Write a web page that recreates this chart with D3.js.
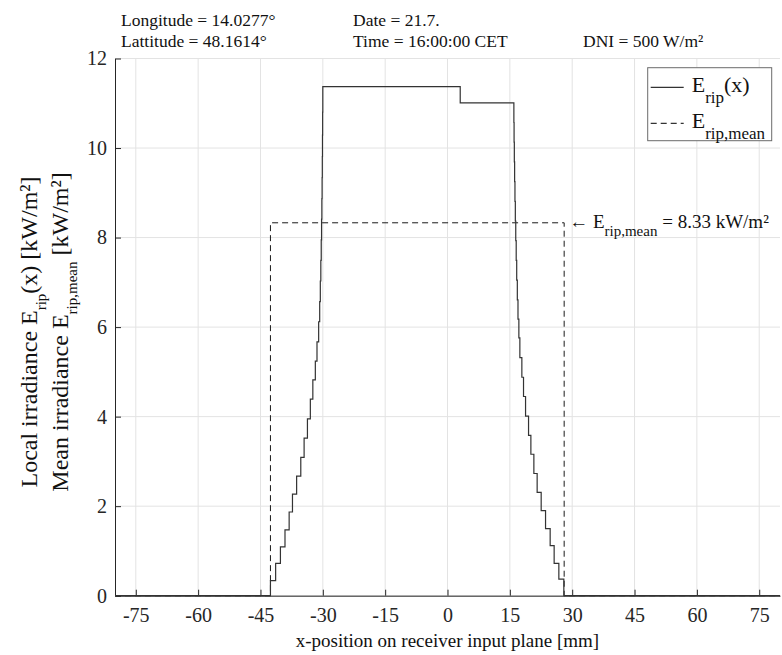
<!DOCTYPE html>
<html>
<head>
<meta charset="utf-8">
<script src="https://cdn.jsdelivr.net/npm/d3@7"></script>
<style>
  body { margin: 0; background: #fff; }
  svg { display: block; font-family: "Liberation Serif", "Times New Roman", serif; }
</style>
</head>
<body>
<svg class="chart" width="782" height="655"></svg>
<script>
// tick values
const xTicks = [-75, -60, -45, -30, -15, 0, 15, 30, 45, 60, 75];
const yTicks = [0, 2, 4, 6, 8, 10, 12];

// local irradiance E_rip(x), step function (value holds until next x)
const ripX = [-80, -42.6, -41.35, -40.2, -39.1, -38.1, -37.3, -36.3, -35.3, -34.5, -33.7, -33.0, -32.4, -31.8, -31.4, -31.0,
              -30.75, -30.6, -30.48, -30.38, -30.3, -30.23, -30.17, -30.12, -30.08, -30.04, -30.0, 3.06,
              15.97, 16.02, 16.08, 16.15, 16.23, 16.32, 16.42, 16.53, 16.65, 16.8, 16.96, 17.17,
              17.41, 17.89, 18.29, 18.78, 19.50, 20.06, 20.78, 21.57, 22.54, 23.59, 24.70, 25.66, 26.79, 27.99, 80];
const ripE = [0, 0.335, 0.72, 1.09, 1.47, 1.87, 2.27, 2.67, 3.09, 3.52, 3.95, 4.39, 4.82, 5.24, 5.67, 6.12,
              6.57, 7.03, 7.49, 7.95, 8.41, 8.87, 9.34, 9.81, 10.29, 10.8, 11.37, 11.01,
              10.57, 10.13, 9.69, 9.25, 8.81, 8.37, 7.93, 7.49, 7.05, 6.61, 6.18, 5.76,
              5.32, 4.88, 4.45, 4.01, 3.58, 3.16, 2.73, 2.31, 1.90, 1.50, 1.12, 0.72, 0.37, 0, 0];

// mean irradiance E_rip,mean
const meanX = [-80, -42.6, -42.6, 28.07, 28.07, 80];
const meanE = [0, 0, 8.33, 8.33, 0, 0];
const meanValue = 8.33;

const infoRows = [
  ["Longitude = 14.0277°", "Date = 21.7.", ""],
  ["Lattitude = 48.1614°", "Time = 16:00:00 CET", "DNI = 500 W/m²"]
];

var svg = d3.select(".chart");
var width = +svg.attr("width");
var height = +svg.attr("height");

let margin = {left: 115, right: 2, top: 58.5, bottom: 59.3};
let innerWidth = width - margin.left - margin.right;
let innerHeight = height - margin.top - margin.bottom;

let axisColor = "#262626";
let gridColor = "#e3e3e3";
let tickFont = 20;

var xScale = d3.scaleLinear().domain([-80, 80]).range([0, innerWidth]);
var yScale = d3.scaleLinear().domain([0, 12]).range([innerHeight, 0]);

let g = svg.append("g")
           .attr("transform", `translate(${margin.left}, ${margin.top})`);

// grid
g.append("g")
 .selectAll("line")
 .data(xTicks)
 .join("line")
 .attr("x1", d => xScale(d)).attr("x2", d => xScale(d))
 .attr("y1", 0).attr("y2", innerHeight)
 .attr("stroke", gridColor);
g.append("g")
 .selectAll("line")
 .data(yTicks)
 .join("line")
 .attr("x1", 0).attr("x2", innerWidth)
 .attr("y1", d => yScale(d)).attr("y2", d => yScale(d))
 .attr("stroke", gridColor);

// axes, ticks point inward like matlab, plain hyphen for negatives
let xAxis = g.append("g")
    .attr("transform", `translate(0, ${innerHeight})`)
    .call(d3.axisBottom(xScale).tickValues(xTicks).tickFormat(d => String(d))
            .tickSizeInner(-6).tickSizeOuter(0).tickPadding(12));
let yAxis = g.append("g")
    .call(d3.axisLeft(yScale).tickValues(yTicks).tickFormat(d => String(d))
            .tickSizeInner(-6).tickSizeOuter(0).tickPadding(8));

[xAxis, yAxis].forEach(a => {
  a.attr("font-family", null);
  a.select(".domain").attr("stroke", axisColor);
  a.selectAll(".tick line").attr("stroke", axisColor);
  a.selectAll(".tick text")
   .attr("fill", axisColor)
   .style("font-size", tickFont + "px");
});

// mean (dashed)
g.append("path")
 .datum(meanX.map((x, i) => [x, meanE[i]]))
 .attr("fill", "none")
 .attr("stroke", "#1a1a1a")
 .attr("stroke-width", 1)
 .attr("stroke-dasharray", "6,4")
 .attr("d", d3.line().x(d => xScale(d[0])).y(d => yScale(d[1])));

// local irradiance (solid, stairs)
g.append("path")
 .datum(ripX.map((x, i) => [x, ripE[i]]))
 .attr("fill", "none")
 .attr("stroke", "#333")
 .attr("stroke-width", 1.2)
 .attr("d", d3.line().curve(d3.curveStepAfter).x(d => xScale(d[0])).y(d => yScale(d[1])));

// annotation at mean level
let ann = g.append("text")
 .attr("x", xScale(meanX[3]) + 5)
 .attr("y", yScale(meanValue) + 5)
 .attr("fill", "#111")
 .style("font-size", "19px");
ann.append("tspan").text("← E");
ann.append("tspan").attr("dy", 8).style("font-size", "15px").text("rip,mean");
ann.append("tspan").attr("dy", -8).text(" = " + meanValue.toFixed(2) + " kW/m²");

// legend
let legend = g.append("g").attr("transform", `translate(${647.7 - margin.left}, ${67.7 - margin.top})`);
legend.append("rect")
 .attr("width", 124).attr("height", 73)
 .attr("fill", "#fff").attr("stroke", "#6b6b6b");
let legendItems = [
  {main: "E", sub: "rip", tail: "(x)", dash: null},
  {main: "E", sub: "rip,mean", tail: "", dash: "6,4"}
];
legendItems.forEach((it, i) => {
  let yy = 19.6 + i * 36;
  legend.append("line")
   .attr("x1", 3).attr("x2", 36).attr("y1", yy).attr("y2", yy)
   .attr("stroke", "#333").attr("stroke-width", 1.2)
   .attr("stroke-dasharray", it.dash);
  let t = legend.append("text")
   .attr("x", 44).attr("y", yy + 5)
   .attr("fill", "#111")
   .style("font-size", "22px");
  t.append("tspan").text(it.main);
  t.append("tspan").attr("dy", 11).style("font-size", "17px").text(it.sub);
  if (it.tail) t.append("tspan").attr("dy", -11).text(it.tail);
});

// x label
svg.append("text")
 .attr("x", margin.left + innerWidth / 2)
 .attr("y", 647)
 .attr("text-anchor", "middle")
 .attr("fill", "#111")
 .style("font-size", "19px")
 .text("x-position on receiver input plane [mm]");

// y labels (two lines, rotated)
function yLabel(x, parts) {
  let t = svg.append("text")
    .attr("transform", `translate(${x}, 332) rotate(-90)`)
    .attr("text-anchor", "middle")
    .attr("fill", "#111")
    .style("font-size", "24px");
  parts.forEach(p => {
    let s = t.append("tspan").text(p.t);
    if (p.dy) s.attr("dy", p.dy);
    if (p.size) s.style("font-size", p.size + "px");
  });
}
yLabel(37, [{t: "Local irradiance E"}, {t: "rip", dy: 9, size: 15}, {t: "(x) [kW/m²]", dy: -9}]);
yLabel(68, [{t: "Mean irradiance E"}, {t: "rip,mean", dy: 9, size: 15}, {t: " [kW/m²]", dy: -9}]);

// info text on top
let infoX = [121, 353, 583];
infoRows.forEach((row, r) => {
  row.forEach((txt, c) => {
    if (!txt) return;
    svg.append("text")
     .attr("x", infoX[c])
     .attr("y", 26 + r * 21.3)
     .attr("fill", "#111")
     .style("font-size", "17.5px")
     .text(txt);
  });
});
</script>
</body>
</html>
